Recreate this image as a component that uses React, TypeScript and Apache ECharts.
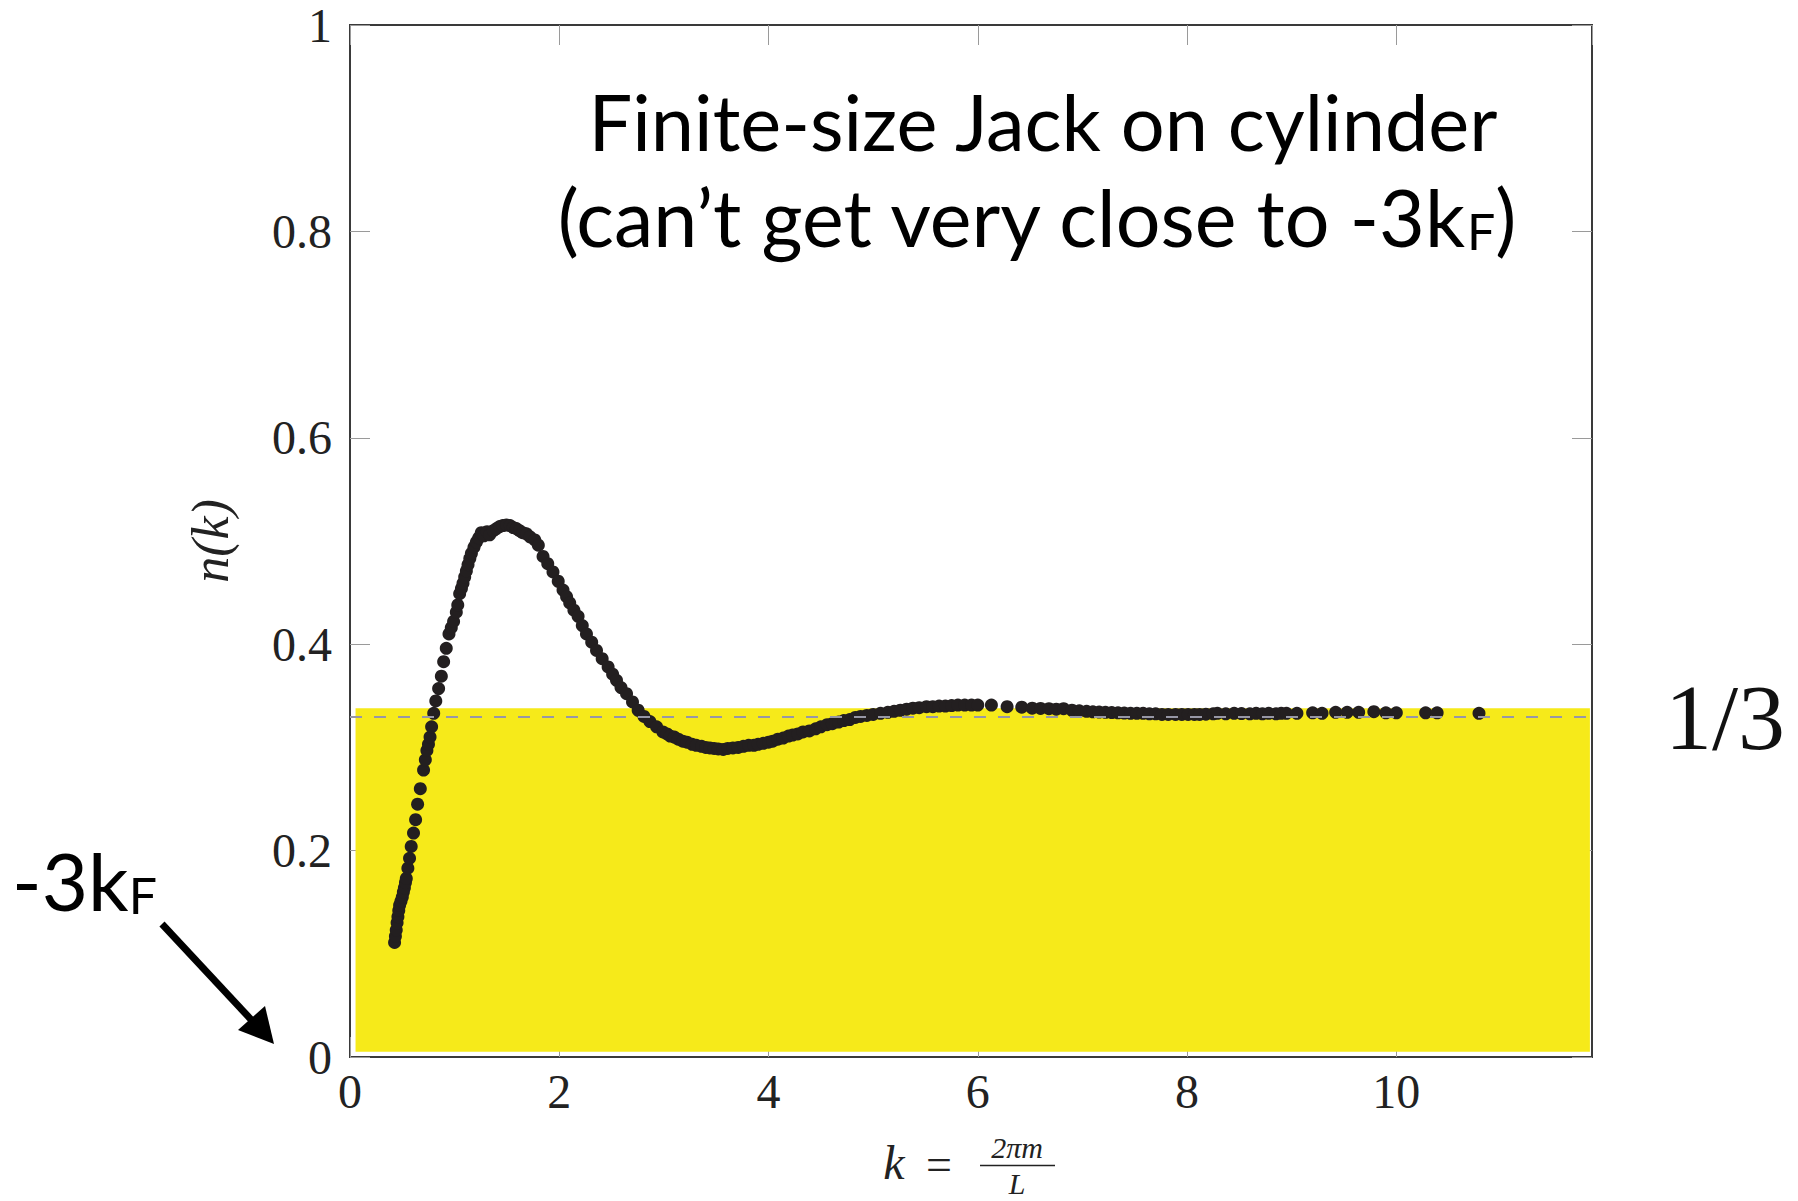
import React, { useEffect, useRef } from "react";
import * as echarts from "echarts";

// ---- data (k, n(k)) ----
const risePoints: number[][] = [
  [0.426, 0.111], [0.434, 0.117], [0.442, 0.123], [0.45, 0.13], [0.458, 0.136],
  [0.466, 0.142], [0.474, 0.147], [0.487, 0.151], [0.5, 0.155], [0.51, 0.16],
  [0.52, 0.164], [0.53, 0.169], [0.538, 0.173], [0.553, 0.183], [0.569, 0.1925],
  [0.585, 0.204], [0.607, 0.217], [0.627, 0.23], [0.646, 0.245], [0.672, 0.26],
  [0.703, 0.278], [0.72, 0.288], [0.735, 0.297], [0.75, 0.303], [0.765, 0.31],
  [0.78, 0.32], [0.8, 0.333], [0.82, 0.345], [0.847, 0.357], [0.873, 0.369],
  [0.895, 0.383], [0.92, 0.396], [0.946, 0.41], [0.968, 0.416], [0.99, 0.422],
  [1.016, 0.431], [1.03, 0.438], [1.048, 0.449], [1.065, 0.454], [1.08, 0.459],
  [1.096, 0.465], [1.112, 0.471], [1.128, 0.477], [1.145, 0.483], [1.16, 0.488],
  [1.185, 0.494], [1.208, 0.499], [1.23, 0.503], [1.255, 0.508], [1.28, 0.505],
  [1.31, 0.509], [1.335, 0.506], [1.37, 0.51], [1.4, 0.512], [1.43, 0.514],
  [1.46, 0.515], [1.495, 0.5155], [1.53, 0.515], [1.56, 0.513], [1.59, 0.512],
  [1.62, 0.51], [1.65, 0.508], [1.686, 0.507], [1.72, 0.504], [1.766, 0.501],
];

const fallPoints: number[][] = [
  [1.8, 0.496], [1.845, 0.485], [1.89, 0.478], [1.94, 0.47], [1.99, 0.461],
  [2.036, 0.4525], [2.07, 0.446], [2.1, 0.44], [2.14, 0.433], [2.18, 0.427],
  [2.22, 0.418], [2.26, 0.41], [2.31, 0.402], [2.356, 0.394], [2.41, 0.386],
  [2.467, 0.378], [2.51, 0.371], [2.547, 0.365], [2.59, 0.358], [2.643, 0.352],
  [2.7, 0.344], [2.754, 0.336], [2.81, 0.33], [2.866, 0.325], [2.93, 0.32],
  [2.99, 0.315], [3.03, 0.313], [3.06, 0.311], [3.1, 0.31], [3.137, 0.308],
  [3.18, 0.306], [3.22, 0.305], [3.27, 0.303], [3.31, 0.302], [3.36, 0.301],
  [3.4, 0.3], [3.44, 0.2995], [3.48, 0.299], [3.52, 0.2985], [3.567, 0.298],
  [3.61, 0.299], [3.66, 0.2995], [3.71, 0.3], [3.76, 0.301], [3.81, 0.302],
  [3.86, 0.302], [3.9, 0.303], [3.95, 0.304], [4.0, 0.305], [4.04, 0.306],
  [4.09, 0.308], [4.14, 0.309], [4.19, 0.311], [4.23, 0.312], [4.28, 0.313],
  [4.33, 0.315], [4.39, 0.316], [4.45, 0.318], [4.5, 0.32], [4.56, 0.322],
  [4.61, 0.323], [4.67, 0.3245], [4.72, 0.326], [4.776, 0.327], [4.83, 0.329],
  [4.88, 0.33], [4.94, 0.331], [5.0, 0.332], [5.07, 0.333], [5.14, 0.334],
  [5.2, 0.335], [5.26, 0.336], [5.32, 0.337], [5.38, 0.338], [5.44, 0.3385],
  [5.51, 0.3395], [5.57, 0.3395], [5.63, 0.34], [5.69, 0.34], [5.75, 0.3405],
  [5.81, 0.341], [5.875, 0.341], [5.94, 0.341], [6.0, 0.341],
];

const tailPoints: number[][] = [
  [6.13, 0.341], [6.28, 0.3395], [6.42, 0.339], [6.52, 0.338], [6.6, 0.3378],
  [6.68, 0.3375], [6.75, 0.337], [6.82, 0.3375], [6.9, 0.336], [6.97, 0.3355],
  [7.04, 0.335], [7.1, 0.3345], [7.16, 0.3342], [7.22, 0.334], [7.28, 0.3338],
  [7.34, 0.3335], [7.4, 0.3333], [7.46, 0.333], [7.52, 0.333], [7.58, 0.333],
  [7.64, 0.3325], [7.7, 0.3325], [7.76, 0.332], [7.82, 0.332], [7.89, 0.332],
  [7.95, 0.332], [8.01, 0.332], [8.07, 0.332], [8.12, 0.332], [8.18, 0.3322],
  [8.25, 0.3325], [8.29, 0.333], [8.37, 0.3325], [8.45, 0.333], [8.52, 0.3328],
  [8.6, 0.3325], [8.66, 0.333], [8.72, 0.3325], [8.78, 0.333], [8.85, 0.3325],
  [8.9, 0.333], [8.95, 0.333], [9.05, 0.333], [9.2, 0.3335], [9.29, 0.333],
  [9.42, 0.334], [9.53, 0.334], [9.64, 0.334], [9.785, 0.3346], [9.9, 0.3335],
  [10.0, 0.3335], [10.28, 0.3335], [10.39, 0.3335], [10.79, 0.333],
];

const X_MIN = 0;
const X_MAX = 11.87;
const X_INTERVAL = 2;
const Y_MIN = 0;
const Y_MAX = 1;
const Y_INTERVAL = 0.2;
const REFERENCE_LEVEL = 1 / 3;
// yellow shaded band (data coordinates)
const bandFrom = [0.053, 0.005];
const bandTo = [11.85, 0.338];

const TITLE_1 = "Finite-size Jack on cylinder";
const TITLE_2 = "(can\u2019t get very close to -3k{sub|F})";

const SERIF = "'Liberation Serif', 'Times New Roman', serif";
const SANS = "Lato, 'Open Sans', sans-serif";

export default function App() {
  const ref = useRef<HTMLDivElement | null>(null);

  useEffect(() => {
    document.body.style.margin = "0";
    if (!ref.current) return;
    const chart = echarts.init(ref.current, undefined, { renderer: "svg" });

    const tickStyle = { color: "#9a9a9a", width: 1 };
    const labelStyle = { fontFamily: SERIF, fontSize: 48, color: "#222" };
    const center = {
      align: "center",
      verticalAlign: "middle",
      textAlign: "center",
      textVerticalAlign: "middle",
    };

    const option: any = {
      animation: false,
      backgroundColor: "#ffffff",
      grid: {
        left: 350,
        right: 206,
        top: 25,
        bottom: 144,
        show: true,
        borderColor: "#3a3a3a",
        borderWidth: 2,
        backgroundColor: "transparent",
      },
      xAxis: [
        {
          type: "value",
          min: X_MIN,
          max: X_MAX,
          interval: X_INTERVAL,
          position: "bottom",
          axisLine: { show: false, onZero: false },
          axisTick: { inside: true, length: 20, lineStyle: tickStyle },
          splitLine: { show: false },
          axisLabel: { ...labelStyle, margin: 10, showMaxLabel: false },
        },
        {
          type: "value",
          min: X_MIN,
          max: X_MAX,
          interval: X_INTERVAL,
          position: "top",
          axisLine: { show: false, onZero: false },
          axisTick: { inside: true, length: 20, lineStyle: tickStyle },
          splitLine: { show: false },
          axisLabel: { show: false },
        },
      ],
      yAxis: [
        {
          type: "value",
          min: Y_MIN,
          max: Y_MAX,
          interval: Y_INTERVAL,
          position: "left",
          name: "n(k)",
          nameLocation: "middle",
          nameGap: 114,
          nameTextStyle: {
            fontFamily: SERIF,
            fontStyle: "italic",
            fontSize: 52,
            color: "#222",
          },
          axisLine: { show: false, onZero: false },
          axisTick: { inside: true, length: 20, lineStyle: tickStyle },
          splitLine: { show: false },
          axisLabel: { ...labelStyle, margin: 18 },
        },
        {
          type: "value",
          min: Y_MIN,
          max: Y_MAX,
          interval: Y_INTERVAL,
          position: "right",
          axisLine: { show: false, onZero: false },
          axisTick: { inside: true, length: 20, lineStyle: tickStyle },
          splitLine: { show: false },
          axisLabel: { show: false },
        },
      ],
      series: [
        {
          type: "scatter",
          data: [],
          z: 1,
          silent: true,
          markArea: {
            silent: true,
            itemStyle: { color: "#f6ea1a", opacity: 1 },
            data: [[{ coord: bandFrom }, { coord: bandTo }]],
          },
        },
        {
          type: "scatter",
          data: [],
          z: 2,
          silent: true,
          markLine: {
            silent: true,
            symbol: "none",
            label: { show: false },
            lineStyle: { type: [12, 12], color: "#9797a6", width: 2 },
            data: [{ yAxis: REFERENCE_LEVEL }],
          },
        },
        {
          type: "scatter",
          z: 3,
          symbol: "circle",
          symbolSize: 13,
          itemStyle: { color: "#231f20", opacity: 1 },
          data: [...risePoints, ...fallPoints, ...tailPoints],
        },
      ],
      graphic: [
        {
          type: "text",
          x: 1043,
          y: 121,
          style: {
            text: TITLE_1,
            fontFamily: SANS,
            fontSize: 77.5,
            fill: "#000",
            ...center,
          },
        },
        {
          type: "text",
          x: 1036,
          y: 216,
          style: {
            text: TITLE_2,
            fontFamily: SANS,
            fontSize: 79,
            fill: "#000",
            ...center,
            rich: {
              sub: {
                fontFamily: SANS,
                fontSize: 50,
                fill: "#000",
                verticalAlign: "bottom",
              },
            },
          },
        },
        {
          type: "text",
          x: 1725,
          y: 717,
          style: {
            text: "1/3",
            fontFamily: SERIF,
            fontSize: 94,
            fill: "#111",
            ...center,
          },
        },
        {
          type: "text",
          x: 12,
          y: 880,
          style: {
            text: "-3k{sub|F}",
            fontFamily: SANS,
            fontSize: 80,
            fill: "#000",
            align: "left",
            verticalAlign: "middle",
            textAlign: "left",
            textVerticalAlign: "middle",
            rich: {
              sub: {
                fontFamily: SANS,
                fontSize: 50,
                fill: "#000",
                verticalAlign: "bottom",
              },
            },
          },
        },
        {
          type: "line",
          shape: { x1: 162, y1: 924, x2: 258, y2: 1027 },
          style: { stroke: "#000", lineWidth: 7 },
        },
        {
          type: "polygon",
          shape: { points: [[274, 1044], [238, 1030], [265, 1006]] },
          style: { fill: "#000" },
        },
        // x axis label: k = 2πm / L
        {
          type: "text",
          x: 894,
          y: 1162,
          style: {
            text: "k",
            fontFamily: SERIF,
            fontStyle: "italic",
            fontSize: 48,
            fill: "#222",
            ...center,
          },
        },
        {
          type: "text",
          x: 939,
          y: 1164,
          style: {
            text: "=",
            fontFamily: SERIF,
            fontSize: 46,
            fill: "#222",
            ...center,
          },
        },
        {
          type: "text",
          x: 1017,
          y: 1147,
          style: {
            text: "2\u03c0m",
            fontFamily: SERIF,
            fontStyle: "italic",
            fontSize: 30,
            fill: "#222",
            ...center,
          },
        },
        {
          type: "line",
          shape: { x1: 980, y1: 1165.5, x2: 1055, y2: 1165.5 },
          style: { stroke: "#222", lineWidth: 1.6 },
        },
        {
          type: "text",
          x: 1017,
          y: 1183,
          style: {
            text: "L",
            fontFamily: SERIF,
            fontStyle: "italic",
            fontSize: 30,
            fill: "#222",
            ...center,
          },
        },
      ],
    };

    chart.setOption(option);
    return () => {
      chart.dispose();
    };
  }, []);

  return (
    <div
      ref={ref}
      style={{ position: "fixed", left: 0, top: 0, width: 1798, height: 1201 }}
    />
  );
}
